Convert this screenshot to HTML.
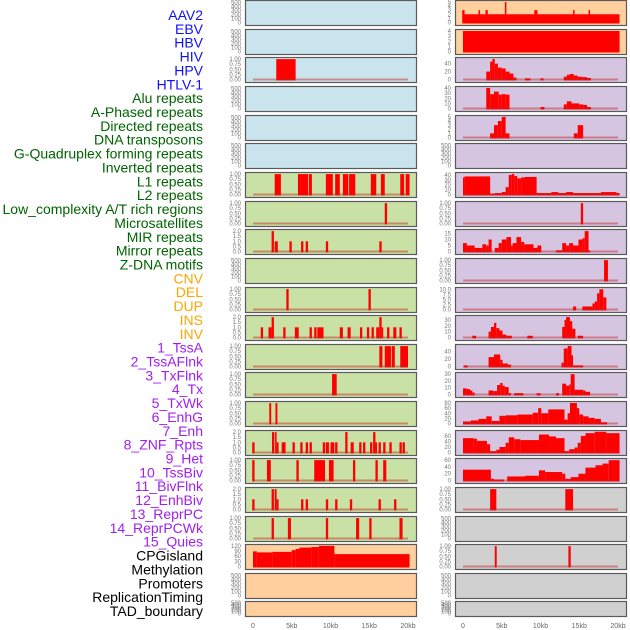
<!DOCTYPE html>
<html><head><meta charset="utf-8"><style>
html,body{margin:0;padding:0;background:#fff;}
body{width:630px;height:630px;overflow:hidden;position:relative;}
svg{position:absolute;left:0;top:0;}
</style></head><body>
<svg id="chart" width="630" height="630" xmlns="http://www.w3.org/2000/svg"></svg>
<script>
// ---- row labels ----
const rowLabels = ["AAV2","EBV","HBV","HIV","HPV","HTLV-1","Alu repeats","A-Phased repeats","Directed repeats","DNA transposons","G-Quadruplex forming repeats","Inverted repeats","L1 repeats","L2 repeats","Low_complexity A/T rich regions","Microsatellites","MIR repeats","Mirror repeats","Z-DNA motifs","CNV","DEL","DUP","INS","INV","1_TssA","2_TssAFlnk","3_TxFlnk","4_Tx","5_TxWk","6_EnhG","7_Enh","8_ZNF_Rpts","9_Het","10_TssBiv","11_BivFlnk","12_EnhBiv","13_ReprPC","14_ReprPCWk","15_Quies","CPGisland","Methylation","Promoters","ReplicationTiming","TAD_boundary"];
const rowGroups = ["v","v","v","v","v","v","r","r","r","r","r","r","r","r","r","r","r","r","r","s","s","s","s","s","c","c","c","c","c","c","c","c","c","c","c","c","c","c","c","o","o","o","o","o"];
const xTickValues = [0,5,10,15,20];
const xTickLabels = ["0","5kb","10kb","15kb","20kb"];

// ---- left column data: segments [startKb, endKb, value] ----
const segL2 = [[3.0,5.5,1]];
const segL6 = [[2.8,3.6,1],[5.8,7.1,1],[7.2,7.6,1],[9.4,10.3,1],[10.6,11.2,1],[11.6,12.3,1],[12.4,13.2,1],[15.2,15.9,1],[16.5,17.0,1],[19.0,19.5,1],[19.7,20.2,1]];
const segL7 = [[17.0,17.3,1]];
const segL8 = [[2.4,2.7,2],[2.8,3.2,1],[4.7,5.0,1],[6.2,6.5,1],[6.8,7.1,1],[9.4,9.7,1],[16.3,16.6,1]];
const segL10 = [[4.3,4.6,1],[14.9,15.2,1]];
const segL11 = [[1.0,1.3,1],[2.0,2.4,1],[2.4,2.7,2],[3.9,4.2,1],[5.4,5.9,1],[7.3,7.6,1],[7.9,8.2,1],[8.3,9.1,1],[11.2,11.6,1],[12.2,12.6,1],[13.8,14.1,1],[14.7,15.0,1],[15.3,15.6,1],[15.9,16.3,1],[16.3,16.6,2],[16.6,16.8,1],[17.3,17.6,1],[18.1,18.5,1],[18.9,19.2,1]];
const segL12 = [[16.3,16.7,1],[17.0,17.8,1],[17.9,18.3,1],[19.0,20.0,1]];
const segL13 = [[10.2,10.8,1]];
const segL14 = [[2.1,2.35,1],[2.9,3.15,1]];
const segL15 = [[-0.1,0.2,1],[2.45,2.75,2],[2.85,3.05,2],[3.05,3.3,1],[3.7,4.2,1],[5.1,5.4,1],[6.1,6.4,1],[6.8,7.1,1],[7.3,7.6,1],[9.0,9.3,1],[9.4,9.8,1],[10.0,10.5,1],[10.6,10.9,1],[11.9,12.2,2],[12.6,13.0,1],[13.7,14.0,1],[14.2,14.5,1],[15.1,15.4,1],[15.5,15.8,2],[15.8,16.0,1],[16.2,16.5,1],[16.8,17.1,1],[17.6,17.9,1],[18.9,19.2,1],[19.3,19.6,1]];
const segL16 = [[-0.1,0.2,1],[1.8,2.3,1],[5.6,5.9,1],[7.9,9.3,1],[9.8,10.4,1],[12.9,13.2,1],[15.8,16.1,1],[16.8,17.2,1]];
const segL17 = [[-0.1,0.2,1],[2.4,2.7,2],[2.8,3.05,2],[3.05,3.3,1],[6.2,6.5,1],[6.8,7.1,1],[9.4,9.7,1],[10.6,10.9,1],[12.5,12.8,1],[16.2,16.5,1],[18.2,18.5,1]];
const segL18 = [[2.4,2.7,1],[4.5,4.9,1],[9.4,9.7,1],[13.3,13.7,1],[15.0,15.3,1],[18.9,19.3,1]];
const segL19 = [[0,0.5,88],[0.5,2.5,82],[2.5,5,85],[5,5.5,95],[5.5,6,102],[6,7.5,110],[7.5,8.5,113],[8.5,10.5,120],[10.5,20.2,72]];

// ---- right column data ----
const segR0 = [[0,20.2,2],[-0.1,0.2,3],[2.0,2.2,3],[2.9,3.2,3],[5.4,5.6,5],[9.2,9.6,3],[14.2,14.4,3],[16.2,16.4,3]];
const segR1 = [[0,20.2,4]];
const segR2 = [[3.0,3.5,20],[3.5,3.8,45],[3.8,4.1,52],[4.1,4.5,40],[4.5,5.0,30],[5.0,5.5,28],[5.5,6.0,20],[6.0,6.5,15],[6.5,6.9,5],[8.0,8.7,3],[10.0,10.4,3],[13.0,13.4,7],[13.4,13.8,12],[13.8,14.3,14],[14.3,14.8,10],[14.8,15.4,7],[15.4,16.0,6],[16.0,16.5,4]];
const segR3 = [[3.0,3.5,40],[3.5,4.0,28],[4.0,4.6,33],[4.6,5.0,27],[5.0,5.5,28],[5.5,6.0,27],[10.0,10.5,3],[13.0,13.4,8],[13.4,14.0,14],[14.0,15.0,10],[15.0,15.5,8],[15.5,16.0,7],[16.0,16.5,3]];
const segR4 = [[3.5,4.0,1],[4.0,4.5,3],[4.5,5.0,4],[5.0,5.5,5],[5.5,6.0,1],[14.3,14.8,1],[14.8,15.5,3]];
const segR6 = [[0,0.2,35],[0.2,3.5,37],[3.5,4.1,2],[4.1,5.0,3],[5.0,5.5,5],[5.5,5.9,15],[5.9,6.3,40],[6.3,6.6,42],[6.6,7.0,38],[7.0,7.5,33],[7.5,8.0,35],[8.0,9.5,36],[9.5,11.4,3],[11.4,12.3,5],[12.3,13.3,3],[13.3,14.2,5],[14.2,17.8,3],[17.8,19.8,5],[19.8,20.2,3]];
const segR7 = [[15.2,15.5,1]];
const segR8 = [[0,0.5,7],[0.5,1.5,5],[1.5,2.5,3],[2.5,3.0,6],[3.0,3.3,5],[3.3,3.7,10],[4.1,4.6,3],[4.6,5.0,7],[5.0,5.6,10],[5.6,6.2,12],[6.2,6.4,5],[6.4,6.9,7],[6.9,7.5,12],[7.5,7.9,8],[7.9,9.1,6],[9.1,9.6,3],[9.6,10.1,5],[12.0,12.8,1],[12.8,13.3,7],[13.3,13.7,5],[13.7,14.2,7],[14.2,14.9,5],[14.9,15.4,10],[15.4,15.7,11],[15.7,16.2,17],[16.2,16.4,1]];
const segR9 = [[18.2,18.7,1]];
const segR10 = [[14.2,14.6,1.5],[15.4,16.7,1.5],[16.7,17.0,3],[17.0,17.3,4],[17.3,17.6,8],[17.6,18.1,10],[18.1,18.5,6]];
const segR11 = [[1.2,1.7,3],[3.3,3.6,10],[3.6,4.0,18],[4.0,4.3,25],[4.3,4.7,16],[4.7,5.1,12],[5.1,5.6,5],[5.6,6.3,3],[8.3,9.0,3],[12.8,13.1,18],[13.1,13.3,30],[13.3,13.8,35],[13.8,14.1,28],[14.1,14.5,15],[14.8,15.5,3]];
const segR12 = [[0.1,0.6,3],[3.3,4.0,25],[4.0,4.8,32],[4.8,5.1,18],[5.1,5.8,8],[5.8,6.2,5],[12.7,13.0,10],[13.0,13.5,48],[13.5,14.0,55],[14.0,14.2,30],[14.2,15.5,3]];
const segR13 = [[0,0.5,9],[0.5,0.9,8],[0.9,1.2,6],[1.2,1.5,3],[3.3,3.9,6],[3.9,4.4,5],[4.4,4.8,14],[4.8,5.1,17],[5.1,5.4,13],[5.4,5.9,11],[5.9,6.2,2],[6.6,7.8,2],[9.5,10.0,2],[12.0,12.4,2],[12.8,13.3,16],[13.3,13.7,13],[13.7,13.9,15],[13.9,14.4,30],[14.4,15.5,7],[15.5,15.8,6],[15.8,16.4,4]];
const segR14 = [[0,1,8],[1,2,12],[2,3,18],[3,3.7,28],[3.7,4.7,10],[4.7,5.5,30],[5.5,7,32],[7,9,35],[9,9.7,42],[9.7,10.1,60],[10.1,11,40],[11,13.1,55],[13.1,13.5,15],[13.5,13.8,40],[13.8,14.7,80],[14.7,15.0,60],[15.0,15.5,35],[15.5,16.2,28],[16.2,17.0,22],[17.0,17.8,18],[17.8,18.6,5]];
const segR15 = [[0,1.4,52],[1.4,1.8,50],[1.8,3.1,42],[3.1,3.5,30],[3.5,4.3,5],[4.3,4.7,10],[4.7,5.5,20],[5.5,5.9,35],[5.9,6.6,55],[6.6,7.4,48],[7.4,9.8,45],[9.8,11.1,65],[11.1,12.0,58],[12.0,13.1,52],[13.1,13.7,5],[13.7,14.4,12],[14.4,14.8,18],[14.8,15.2,35],[15.2,15.8,60],[15.8,17.0,70],[17.0,18.5,75],[18.5,20.2,70]];
const segR16 = [[0,3.6,32],[3.6,4.0,5],[4.0,5.3,3],[5.7,8.0,12],[8.0,9.8,14],[9.8,10.6,30],[10.6,12.8,25],[12.8,13.2,20],[13.2,13.9,5],[13.9,14.9,10],[14.9,15.8,20],[15.8,17.1,38],[17.1,18.0,45],[18.0,18.8,50],[18.8,20.2,60]];
const segR17 = [[3.5,4.3,1],[13.2,14.2,1]];
const segR19 = [[4.1,4.35,1],[13.6,13.9,1]];

const tk500 = [0,100,200,300,400,500];
const tk1 = [0,0.25,0.5,0.75,1.0];
const tk2 = [0,0.5,1.0,1.5,2.0];
const BLUE="#c9e4ec", GREEN="#c9e1a5", ORANGE="#ffcf9e", PURPLE="#d5c5e1", GRAY="#d0d0d0";

const leftPanels = [
 {bg:BLUE,ticks:tk500,max:520,seg:null},{bg:BLUE,ticks:tk500,max:520,seg:null},
 {bg:BLUE,ticks:tk1,max:1.03,seg:segL2,dec:2},{bg:BLUE,ticks:tk500,max:520,seg:null},
 {bg:BLUE,ticks:tk500,max:520,seg:null},{bg:BLUE,ticks:tk500,max:520,seg:null},
 {bg:GREEN,ticks:tk1,max:1.03,seg:segL6,dec:2},{bg:GREEN,ticks:tk1,max:1.03,seg:segL7,dec:2},
 {bg:GREEN,ticks:tk2,max:2.06,seg:segL8,dec:1},{bg:GREEN,ticks:tk500,max:520,seg:null},
 {bg:GREEN,ticks:tk1,max:1.03,seg:segL10,dec:2},{bg:GREEN,ticks:tk2,max:2.06,seg:segL11,dec:1},
 {bg:GREEN,ticks:tk1,max:1.03,seg:segL12,dec:2},{bg:GREEN,ticks:tk1,max:1.03,seg:segL13,dec:2},
 {bg:GREEN,ticks:tk1,max:1.03,seg:segL14,dec:2},{bg:GREEN,ticks:tk2,max:2.06,seg:segL15,dec:1},
 {bg:GREEN,ticks:tk1,max:1.03,seg:segL16,dec:2},{bg:GREEN,ticks:tk2,max:2.06,seg:segL17,dec:1},
 {bg:GREEN,ticks:tk1,max:1.03,seg:segL18,dec:2},{bg:ORANGE,ticks:[0,30,60,90,120],max:122,seg:segL19,dec:0,nobase:true},
 {bg:ORANGE,ticks:tk500,max:520,seg:null},{bg:ORANGE,ticks:tk500,max:520,seg:null}
];
const rightPanels = [
 {bg:ORANGE,ticks:[0,1,2,3,4,5],max:5.1,seg:segR0,dec:0,nobase:true},{bg:ORANGE,ticks:[0,1,2,3,4],max:4.1,seg:segR1,dec:0,nobase:true},
 {bg:PURPLE,ticks:[0,20,40],max:53,seg:segR2,dec:0},{bg:PURPLE,ticks:[0,10,20,30,40],max:41,seg:segR3,dec:0},
 {bg:PURPLE,ticks:[0,1,2,3,4,5],max:5.1,seg:segR4,dec:0},{bg:PURPLE,ticks:tk500,max:520,seg:null},
 {bg:PURPLE,ticks:[0,10,20,30,40],max:43,seg:segR6,dec:0},{bg:PURPLE,ticks:tk1,max:1.03,seg:segR7,dec:2},
 {bg:PURPLE,ticks:[0,5,10,15],max:17.5,seg:segR8,dec:0},{bg:PURPLE,ticks:tk1,max:1.03,seg:segR9,dec:2},
 {bg:PURPLE,ticks:[0,2.5,5,7.5,10],max:10.4,seg:segR10,dec:1},{bg:PURPLE,ticks:[0,10,20,30],max:36,seg:segR11,dec:0},
 {bg:PURPLE,ticks:[0,20,40],max:56,seg:segR12,dec:0},{bg:PURPLE,ticks:[0,10,20,30],max:31,seg:segR13,dec:0},
 {bg:PURPLE,ticks:[0,20,40,60,80],max:82,seg:segR14,dec:0},{bg:PURPLE,ticks:[0,20,40,60],max:76,seg:segR15,dec:0},
 {bg:PURPLE,ticks:[0,20,40,60],max:62,seg:segR16,dec:0},{bg:GRAY,ticks:tk1,max:1.03,seg:segR17,dec:2},
 {bg:GRAY,ticks:tk500,max:520,seg:null},{bg:GRAY,ticks:tk1,max:1.03,seg:segR19,dec:2},
 {bg:GRAY,ticks:tk500,max:520,seg:null},{bg:GRAY,ticks:tk500,max:520,seg:null}
];

const NS="http://www.w3.org/2000/svg";
const svg=document.getElementById('chart');
function mk(tag,attrs,parent){const e=document.createElementNS(NS,tag);for(const k in attrs)e.setAttribute(k,attrs[k]);(parent||svg).appendChild(e);return e;}

const groupColor={v:"#1010ff",r:"#006400",s:"#ffa500",c:"#a020f0",o:"#000000"};
rowLabels.forEach((t,j)=>{
  const e=mk('text',{x:203,y:15+j*13.86+5,'text-anchor':'end','font-size':14,'font-family':'"Liberation Sans", sans-serif',fill:groupColor[rowGroups[j]]});
  
  
  e.textContent=t;
});

function rowGeom(i){return i<21?{t:Math.round(i*28.65),h:25}:{t:601,h:15};}
function fmt(v,dec){return v.toFixed(dec);}

function drawColumn(panels,px0,side){
  const pw=171, xz=px0+8, kbPx=7.75;
  const xs=kb=>xz+kb*kbPx;
  panels.forEach((p,i)=>{
    const g=rowGeom(i);
    const grp=mk('g',{});
    
    
    const bg=mk('rect',{x:px0+0.5,y:g.t+0.5,width:pw,height:g.h,fill:p.bg},grp);
    
    
    const y0=g.t+g.h-2.5, y1=g.t+1.5;
    const ys=v=>y0-(v/p.max)*(y0-y1);
    if(p.seg){
      p.seg.forEach(s=>{
        const r=mk('rect',{x:xs(s[0]),y:ys(s[2]),width:Math.max(1.5,xs(s[1])-xs(s[0])),height:y0-ys(s[2])+1,fill:'#ff0000'},grp);
        
        
      });
      if(!p.nobase){
        const b=mk('line',{x1:xs(0),x2:xs(20),y1:y0,y2:y0,stroke:'rgba(200,30,30,0.45)','stroke-width':2},grp);
        
        
      }
    }
    const br=mk('rect',{x:px0+0.5,y:g.t+0.5,width:pw,height:g.h,fill:'none',stroke:'#5a5a5a','stroke-width':1.2},grp);
    
    
    const dec=p.dec||0;
    p.ticks.forEach(v=>{
      const tt=mk('text',{x:px0-4,y:ys(v)+2,'text-anchor':'end','font-size':6,'font-family':'"Liberation Sans", sans-serif',fill:'#777'},grp);
      
      
      tt.textContent=fmt(v,dec);
    });
  });
  xTickValues.forEach((v,k)=>{
    const t=mk('text',{x:xs(v),y:628,'text-anchor':'middle','font-size':7,'font-family':'"Liberation Sans", sans-serif',fill:'#666'});
    
    
    t.textContent=xTickLabels[k];
  });
}
drawColumn(leftPanels,245,'left');
drawColumn(rightPanels,455,'right');
</script>
</body></html>
